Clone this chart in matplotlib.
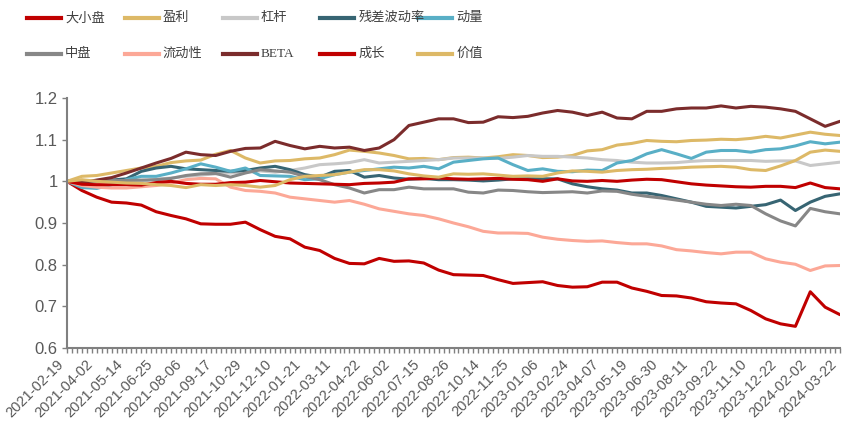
import matplotlib.pyplot as plt
from matplotlib.lines import Line2D
import matplotlib.transforms as mtransforms
import numpy as np

plt.rcParams['font.family'] = ['Liberation Sans', 'Noto Sans CJK SC']

# 周度数据, 每3周取一个点 (2021-02-19 ~ 2024-03-22)
tick_labels = ['2021-02-19', '2021-04-02', '2021-05-14', '2021-06-25', '2021-08-06',
               '2021-09-17', '2021-10-29', '2021-12-10', '2022-01-21', '2022-03-11',
               '2022-04-22', '2022-06-02', '2022-07-15', '2022-08-26', '2022-10-14',
               '2022-11-25', '2023-01-06', '2023-02-24', '2023-04-07', '2023-05-19',
               '2023-06-30', '2023-08-11', '2023-09-22', '2023-11-10', '2023-12-22',
               '2024-02-02', '2024-03-22']

daxiao = [1.0, 0.978, 0.962, 0.95, 0.948, 0.943, 0.927, 0.918, 0.91, 0.898, 0.897, 0.897, 0.902,
          0.884, 0.868, 0.862, 0.842, 0.834, 0.815, 0.803, 0.802, 0.815, 0.808, 0.809, 0.804, 0.787,
          0.776, 0.775, 0.774, 0.764, 0.755, 0.757, 0.759, 0.75, 0.746, 0.747, 0.758, 0.758, 0.744,
          0.736, 0.726, 0.725, 0.72, 0.711, 0.708, 0.706, 0.69, 0.67, 0.658, 0.652, 0.735, 0.698, 0.68]
yingli = [1.0, 1.012, 1.014, 1.02, 1.026, 1.032, 1.036, 1.045, 1.049, 1.051, 1.065, 1.074, 1.056,
          1.044, 1.049, 1.05, 1.054, 1.056, 1.064, 1.075, 1.072, 1.068, 1.062, 1.054, 1.055, 1.052,
          1.057, 1.058, 1.056, 1.059, 1.064, 1.062, 1.057, 1.058, 1.062, 1.073, 1.076, 1.087, 1.091,
          1.098, 1.096, 1.095, 1.098, 1.099, 1.101, 1.1, 1.103, 1.108, 1.104, 1.111, 1.118, 1.113, 1.11]
ganggan = [1.0, 1.0, 1.0, 1.0, 1.002, 1.0, 1.005, 1.008, 1.012, 1.015, 1.018, 1.02, 1.022,
           1.025, 1.022, 1.026, 1.032, 1.04, 1.042, 1.045, 1.052, 1.044, 1.046, 1.048, 1.05, 1.052,
           1.056, 1.056, 1.056, 1.055, 1.058, 1.062, 1.06, 1.06, 1.058, 1.056, 1.052, 1.05, 1.046,
           1.044, 1.044, 1.045, 1.048, 1.05, 1.05, 1.05, 1.05, 1.048, 1.049, 1.049, 1.038, 1.042, 1.046]
cancha = [1.0, 0.996, 1.002, 1.003, 1.006, 1.024, 1.032, 1.036, 1.03, 1.028, 1.026, 1.024, 1.026,
          1.032, 1.036, 1.028, 1.016, 1.01, 1.024, 1.026, 1.01, 1.014, 1.008, 1.005, 1.007, 1.004,
          1.004, 1.003, 1.001, 1.003, 1.006, 1.006, 1.006, 1.006, 0.994, 0.987, 0.982, 0.979, 0.972,
          0.972, 0.966, 0.958, 0.95, 0.94, 0.938, 0.936, 0.94, 0.944, 0.955, 0.93, 0.95, 0.964, 0.97]
dongliang = [1.0, 0.985, 0.983, 0.992, 1.004, 1.012, 1.012, 1.02, 1.03, 1.042, 1.034, 1.024, 1.032,
             1.014, 1.013, 1.012, 1.004, 1.006, 1.016, 1.022, 1.026, 1.03, 1.034, 1.032, 1.036, 1.03,
             1.046, 1.05, 1.054, 1.056, 1.04, 1.026, 1.03, 1.024, 1.023, 1.027, 1.026, 1.044, 1.05,
             1.066, 1.076, 1.066, 1.055, 1.07, 1.074, 1.074, 1.07, 1.076, 1.078, 1.085, 1.095, 1.09, 1.094]
zhongpan = [1.0, 0.998, 1.0, 1.002, 1.002, 1.003, 1.004, 1.007, 1.014, 1.018, 1.019, 1.01, 1.02,
            1.028, 1.025, 1.022, 1.012, 1.004, 0.992, 0.984, 0.972, 0.98, 0.98, 0.986, 0.982, 0.982,
            0.982, 0.974, 0.972, 0.979, 0.978, 0.975, 0.973, 0.974, 0.975, 0.972, 0.977, 0.976, 0.969,
            0.964, 0.96, 0.955, 0.95, 0.945, 0.942, 0.945, 0.942, 0.922, 0.905, 0.893, 0.935, 0.927, 0.922]
liudong = [1.0, 0.99, 0.986, 0.984, 0.984, 0.987, 0.99, 0.996, 1.004, 1.007, 1.006, 0.986, 0.978,
           0.976, 0.972, 0.962, 0.958, 0.954, 0.95, 0.954, 0.945, 0.934, 0.928, 0.922, 0.918, 0.91,
           0.9, 0.891, 0.88, 0.876, 0.876, 0.875, 0.866, 0.861, 0.858, 0.856, 0.857, 0.853, 0.85,
           0.85, 0.845, 0.836, 0.833, 0.829, 0.826, 0.83, 0.83, 0.814, 0.806, 0.801, 0.786, 0.797, 0.798]
beta = [1.0, 0.997, 1.003, 1.009, 1.02, 1.032, 1.044, 1.055, 1.07, 1.064, 1.062, 1.072, 1.079,
        1.08, 1.096, 1.086, 1.078, 1.084, 1.08, 1.082, 1.074, 1.08, 1.1, 1.134, 1.142, 1.15,
        1.15, 1.141, 1.142, 1.155, 1.153, 1.156, 1.164, 1.17, 1.166, 1.158, 1.166, 1.152, 1.15,
        1.168, 1.168, 1.174, 1.176, 1.176, 1.181, 1.176, 1.18, 1.178, 1.174, 1.168, 1.15, 1.132, 1.144]
chengzhang = [1.0, 0.993, 0.992, 0.992, 0.992, 0.991, 0.997, 1.0, 0.995, 0.993, 0.993, 0.997, 0.998,
              1.002, 0.999, 0.996, 0.995, 0.994, 0.993, 0.992, 0.995, 0.996, 0.998, 1.006, 1.006, 1.008,
              1.006, 1.005, 1.006, 1.007, 1.005, 1.004, 1.0, 1.006, 1.001, 1.0, 1.002, 1.0, 1.003,
              1.005, 1.004, 0.999, 0.994, 0.991, 0.989, 0.987, 0.986, 0.988, 0.988, 0.985, 0.996, 0.985, 0.982]
jiazhi = [1.0, 1.004, 1.0, 0.998, 0.996, 0.995, 0.992, 0.99, 0.985, 0.992, 0.99, 0.992, 0.99,
          0.986, 0.99, 1.004, 1.012, 1.014, 1.016, 1.022, 1.028, 1.028, 1.025, 1.018, 1.013, 1.01,
          1.018, 1.017, 1.018, 1.015, 1.012, 1.013, 1.012, 1.02, 1.025, 1.024, 1.022, 1.026, 1.028,
          1.029, 1.031, 1.032, 1.034, 1.035, 1.036, 1.034, 1.028, 1.026, 1.037, 1.05, 1.07, 1.075, 1.072]

names = ['大小盘', '盈利', '杠杆', '残差波动率', '动量', '中盘', '流动性', 'BETA', '成长', '价值']
series = [daxiao, yingli, ganggan, cancha, dongliang, zhongpan, liudong, beta, chengzhang, jiazhi]
colors = ['#C00000', '#DDB967', '#C8C8C8', '#376573', '#59AFC6',
          '#878787', '#FCA897', '#7B2C2C', '#C00000', '#DDB967']

n_weeks = 157
week = np.arange(0, n_weeks, 3)

fig = plt.figure(figsize=(8.42, 4.26), dpi=100)
W, H = 842, 426
ax = fig.add_axes([67 / W, 1 - 348 / H, (840 - 67) / W, (348 - 98) / H])

for vals, c in zip(series, colors):
    ax.plot(week, vals, color=c, lw=2.2, solid_joinstyle='round', solid_capstyle='round')

ax.set_xlim(0, n_weeks - 1)
ax.set_ylim(0.6, 1.2)
ax.set_yticks([0.6, 0.7, 0.8, 0.9, 1.0, 1.1, 1.2])
ax.set_yticklabels(['0.6', '0.7', '0.8', '0.9', '1', '1.1', '1.2'], fontsize=12, color='#595959')
ax.set_xticks(np.arange(0, n_weeks, 6))
ax.set_xticklabels(tick_labels, rotation=45, ha='right', va='center', rotation_mode='anchor',
                   fontsize=10.5, color='#595959')
ax.set_xticks(np.arange(n_weeks), minor=True)
ax.tick_params(axis='both', which='both', color='#808080', width=1, length=3.6)
ax.tick_params(axis='y', pad=3)
ax.tick_params(axis='x', pad=6.5)

# shift date labels a little to the left so the last one fits
shift = mtransforms.ScaledTranslation(-6 / 100, 0, fig.dpi_scale_trans)
for lab in ax.get_xticklabels():
    lab.set_transform(lab.get_transform() + shift)

for s in ['top', 'right']:
    ax.spines[s].set_visible(False)
for s in ['left', 'bottom']:
    ax.spines[s].set_color('#808080')
    ax.spines[s].set_linewidth(1.5)

# legend, 2 rows x 5 cols with fixed column width
for k, (name, c) in enumerate(zip(names, colors)):
    row, col = divmod(k, 5)
    x0 = (27 + col * 97.8) / W
    y0 = 1 - (18 + row * 36) / H
    fig.add_artist(Line2D([x0, x0 + 34 / W], [y0, y0], color=c, lw=3,
                          transform=fig.transFigure))
    fig.text(x0 + 38 / W, y0, name, va='center', ha='left', fontsize=9.5, color='#404040',
             family=['Liberation Serif', 'Noto Sans CJK SC'])

fig.savefig('out.png', dpi=100)
